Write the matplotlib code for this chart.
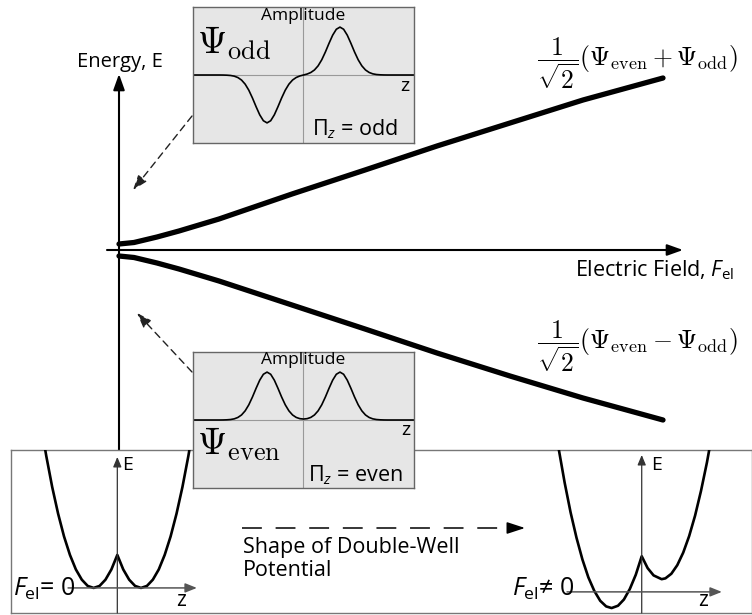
import matplotlib.pyplot as plt
import numpy as np

plt.rcParams['font.family'] = ['Open Sans', 'DejaVu Sans']
plt.rcParams['mathtext.fontset'] = 'custom'
plt.rcParams['mathtext.rm'] = 'Open Sans'
plt.rcParams['mathtext.it'] = 'Open Sans:italic'
plt.rcParams['mathtext.bf'] = 'Open Sans:bold'

W, H = 752, 615

# Energy of the two levels versus electric field
field = [0, 0.15, 0.38, 0.6, 1.0, 1.73, 2.46, 3.18, 3.91, 4.64, 5.44]
e_upper = [0.06, 0.075, 0.13, 0.19, 0.31, 0.56, 0.80, 1.04, 1.27, 1.50, 1.72]
e_lower = [-0.06, -0.075, -0.13, -0.19, -0.31, -0.55, -0.79, -1.03, -1.26, -1.48, -1.70]

# Wavefunctions, right half (z >= 0); even is mirrored, odd is mirrored with sign flip
z_half = [0, 0.1, 0.2, 0.3, 0.4, 0.5, 0.6, 0.7, 0.8, 0.9, 1.0, 1.1, 1.2, 1.3, 1.4, 1.5,
          1.6, 1.7, 1.8, 1.9, 2.0, 2.1, 2.2, 2.3, 2.4, 2.6, 2.8, 3.1]
even_half = [0.02, 0.028, 0.054, 0.105, 0.191, 0.317, 0.48, 0.662, 0.832, 0.955, 1.0, 0.955,
             0.832, 0.662, 0.48, 0.317, 0.191, 0.105, 0.053, 0.024, 0.01, 0.004, 0.001, 0, 0, 0, 0, 0]
odd_half = [0, 0.02, 0.052, 0.105, 0.191, 0.317, 0.48, 0.662, 0.832, 0.955, 1.0, 0.955,
            0.832, 0.662, 0.48, 0.317, 0.191, 0.105, 0.053, 0.024, 0.01, 0.004, 0.001, 0, 0, 0, 0, 0]

# Double-well potential, no field
z_sym = [-3.25, -3.0, -2.75, -2.5, -2.25, -2.0, -1.75, -1.5, -1.25, -1.0, -0.75, -0.5, -0.25, 0,
         0.25, 0.5, 0.75, 1.0, 1.25, 1.5, 1.75, 2.0, 2.25, 2.5, 2.75, 3.0, 3.25]
v_sym = [5.06, 4.0, 3.06, 2.25, 1.56, 1.0, 0.56, 0.25, 0.06, 0, 0.06, 0.25, 0.56, 1.0,
         0.56, 0.25, 0.06, 0, 0.06, 0.25, 0.56, 1.0, 1.56, 2.25, 3.06, 4.0, 5.06]

# Double-well potential tilted by the field
z_tilt = [-3.5, -3.25, -3.0, -2.75, -2.5, -2.25, -2.0, -1.75, -1.5, -1.27, -1.0, -0.75, -0.5, -0.25, 0,
          0.25, 0.5, 0.84, 1.0, 1.25, 1.5, 1.75, 2.0, 2.25, 2.5, 2.75, 3.0]
v_tilt = [4.33, 3.31, 2.41, 1.64, 0.98, 0.44, 0.03, -0.27, -0.44, -0.49, -0.42, -0.23, 0.09, 0.52, 1.08,
          0.72, 0.50, 0.385, 0.41, 0.55, 0.81, 1.19, 1.69, 2.31, 3.06, 3.92, 4.91]


def rect(x0, y0, x1, y1):
    return [x0 / W, 1 - y1 / H, (x1 - x0) / W, (y1 - y0) / H]


def put(x, y, s, **kw):
    fig.text(x / W, 1 - y / H, s, **kw)


def arrow(a, tip, start, color='black', lw=1.5, hl=0.86, hw=0.32, **kw):
    a.annotate('', xy=tip, xytext=start,
               arrowprops=dict(arrowstyle=f'-|>,head_length={hl},head_width={hw}',
                               color=color, lw=lw, shrinkA=0, shrinkB=0, **kw))


fig = plt.figure(figsize=(7.52, 6.15), dpi=100)

# main energy diagram
ax = fig.add_axes([0, 0, 1, 1])
ax.set_xlim(-1.19, 6.33)
ax.set_ylim(-3.65, 2.5)
ax.axis('off')

arrow(ax, (0, 1.76), (0, -2.0), hl=0.95, hw=0.34)
arrow(ax, (5.64, 0), (-0.12, 0), hl=0.95, hw=0.34)
ax.plot(field, e_upper, color='black', lw=3.8, solid_capstyle='round')
ax.plot(field, e_lower, color='black', lw=3.8, solid_capstyle='round')

arrow(ax, (0.14, 0.60), (0.73, 1.34), color='#222', lw=1.0, hl=0.9, hw=0.32, linestyle=(0, (5, 3.5)))
arrow(ax, (0.18, -0.63), (0.73, -1.22), color='#222', lw=1.0, hl=0.9, hw=0.32, linestyle=(0, (5, 3.5)))

put(120, 62, 'Energy, E', fontsize=14.5, ha='center', va='center')
put(734, 270, r'Electric Field, $F_{\mathrm{el}}$', fontsize=15.5, ha='right', va='center')
put(638, 63, r'$\dfrac{1}{\sqrt{2}}(\Psi_{\mathrm{even}}+\Psi_{\mathrm{odd}})$',
    fontsize=18.5, math_fontfamily='cm', ha='center', va='center')
put(638, 346, r'$\dfrac{1}{\sqrt{2}}(\Psi_{\mathrm{even}}-\Psi_{\mathrm{odd}})$',
    fontsize=18.5, math_fontfamily='cm', ha='center', va='center')

# bottom panel with the double-well shapes
panel = fig.add_axes(rect(10.5, 450, 751.5, 613))
panel.set_xlim(10.5, 751.5)
panel.set_ylim(613, 450)
panel.set_xticks([])
panel.set_yticks([])
for s in panel.spines.values():
    s.set_color('#777')
    s.set_linewidth(1.0)
panel.plot([242, 509], [528, 528], color='black', lw=1.1, linestyle=(0, (13, 9)))
arrow(panel, (525, 528), (509, 528), lw=1.1, hl=1.1, hw=0.36)

left = fig.add_axes(rect(10.5, 450, 240, 613))
left.set_xlim(-4.51, 5.18)
left.set_ylim(-0.76, 4.18)
left.axis('off')
arrow(left, (0, 3.97), (0, -0.76), color='#333', lw=0.9, hl=0.6, hw=0.25)
arrow(left, (3.36, 0), (-2.08, 0), color='#555', lw=1.1, hl=0.7, hw=0.28)
left.plot(z_sym, v_sym, color='black', lw=1.9)

right = fig.add_axes(rect(480, 450, 751.5, 613))
right.set_xlim(-6.82, 4.63)
right.set_ylim(-0.64, 4.30)
right.axis('off')
arrow(right, (0, 4.15), (0, -0.64), color='#333', lw=0.9, hl=0.6, hw=0.25)
arrow(right, (3.38, 0), (-3.15, 0), color='#555', lw=1.1, hl=0.7, hw=0.28)
right.plot(z_tilt, v_tilt, color='black', lw=1.9)

put(128, 465, 'E', fontsize=14, ha='center', va='center')
put(657, 465, 'E', fontsize=14, ha='center', va='center')
put(181, 600, 'z', fontsize=15, ha='center', va='center')
put(703, 600, 'z', fontsize=15, ha='center', va='center')
put(13, 596, r'$F_{\mathrm{el}}$= 0', fontsize=18, ha='left', va='baseline')
put(512, 596, r'$F_{\mathrm{el}}$≠ 0', fontsize=18, ha='left', va='baseline')
put(243, 537, 'Shape of Double-Well\nPotential', fontsize=15.5, ha='left', va='top',
    linespacing=1.1)

# wavefunction insets
z = np.concatenate([-np.array(z_half[::-1]), z_half[1:]])
psi_even = np.concatenate([even_half[::-1], even_half[1:]])
psi_odd = np.concatenate([-np.array(odd_half[::-1]), odd_half[1:]])


def wave_box(r, psi):
    a = fig.add_axes(r)
    a.set_facecolor('#e6e6e6')
    a.set_xlim(-3.03, 3.03)
    a.set_ylim(-1.42, 1.42)
    a.set_xticks([])
    a.set_yticks([])
    for s in a.spines.values():
        s.set_color('#666')
        s.set_linewidth(1.0)
    a.axhline(0, color='#999', lw=0.8)
    a.axvline(0, color='#999', lw=0.8)
    a.plot(z, psi, color='black', lw=1.2)
    return a


wave_box(rect(193, 7, 414, 143), psi_odd)
wave_box(rect(193, 352, 414, 488), psi_even)

put(303, 16, 'Amplitude', fontsize=12.5, ha='center', va='center')
put(303, 360, 'Amplitude', fontsize=12.5, ha='center', va='center')
put(405, 86, 'z', fontsize=14, ha='center', va='center')
put(406, 430, 'z', fontsize=14, ha='center', va='center')
put(197, 54, r'$\Psi_{\mathrm{odd}}$', fontsize=27, math_fontfamily='cm', ha='left', va='baseline')
put(197, 455, r'$\Psi_{\mathrm{even}}$', fontsize=27, math_fontfamily='cm', ha='left', va='baseline')
put(312, 135, r'$\Pi_z$ = odd', fontsize=15.5, ha='left', va='baseline')
put(308, 481, r'$\Pi_z$ = even', fontsize=15.5, ha='left', va='baseline')

fig.savefig('out.png', dpi=100)
